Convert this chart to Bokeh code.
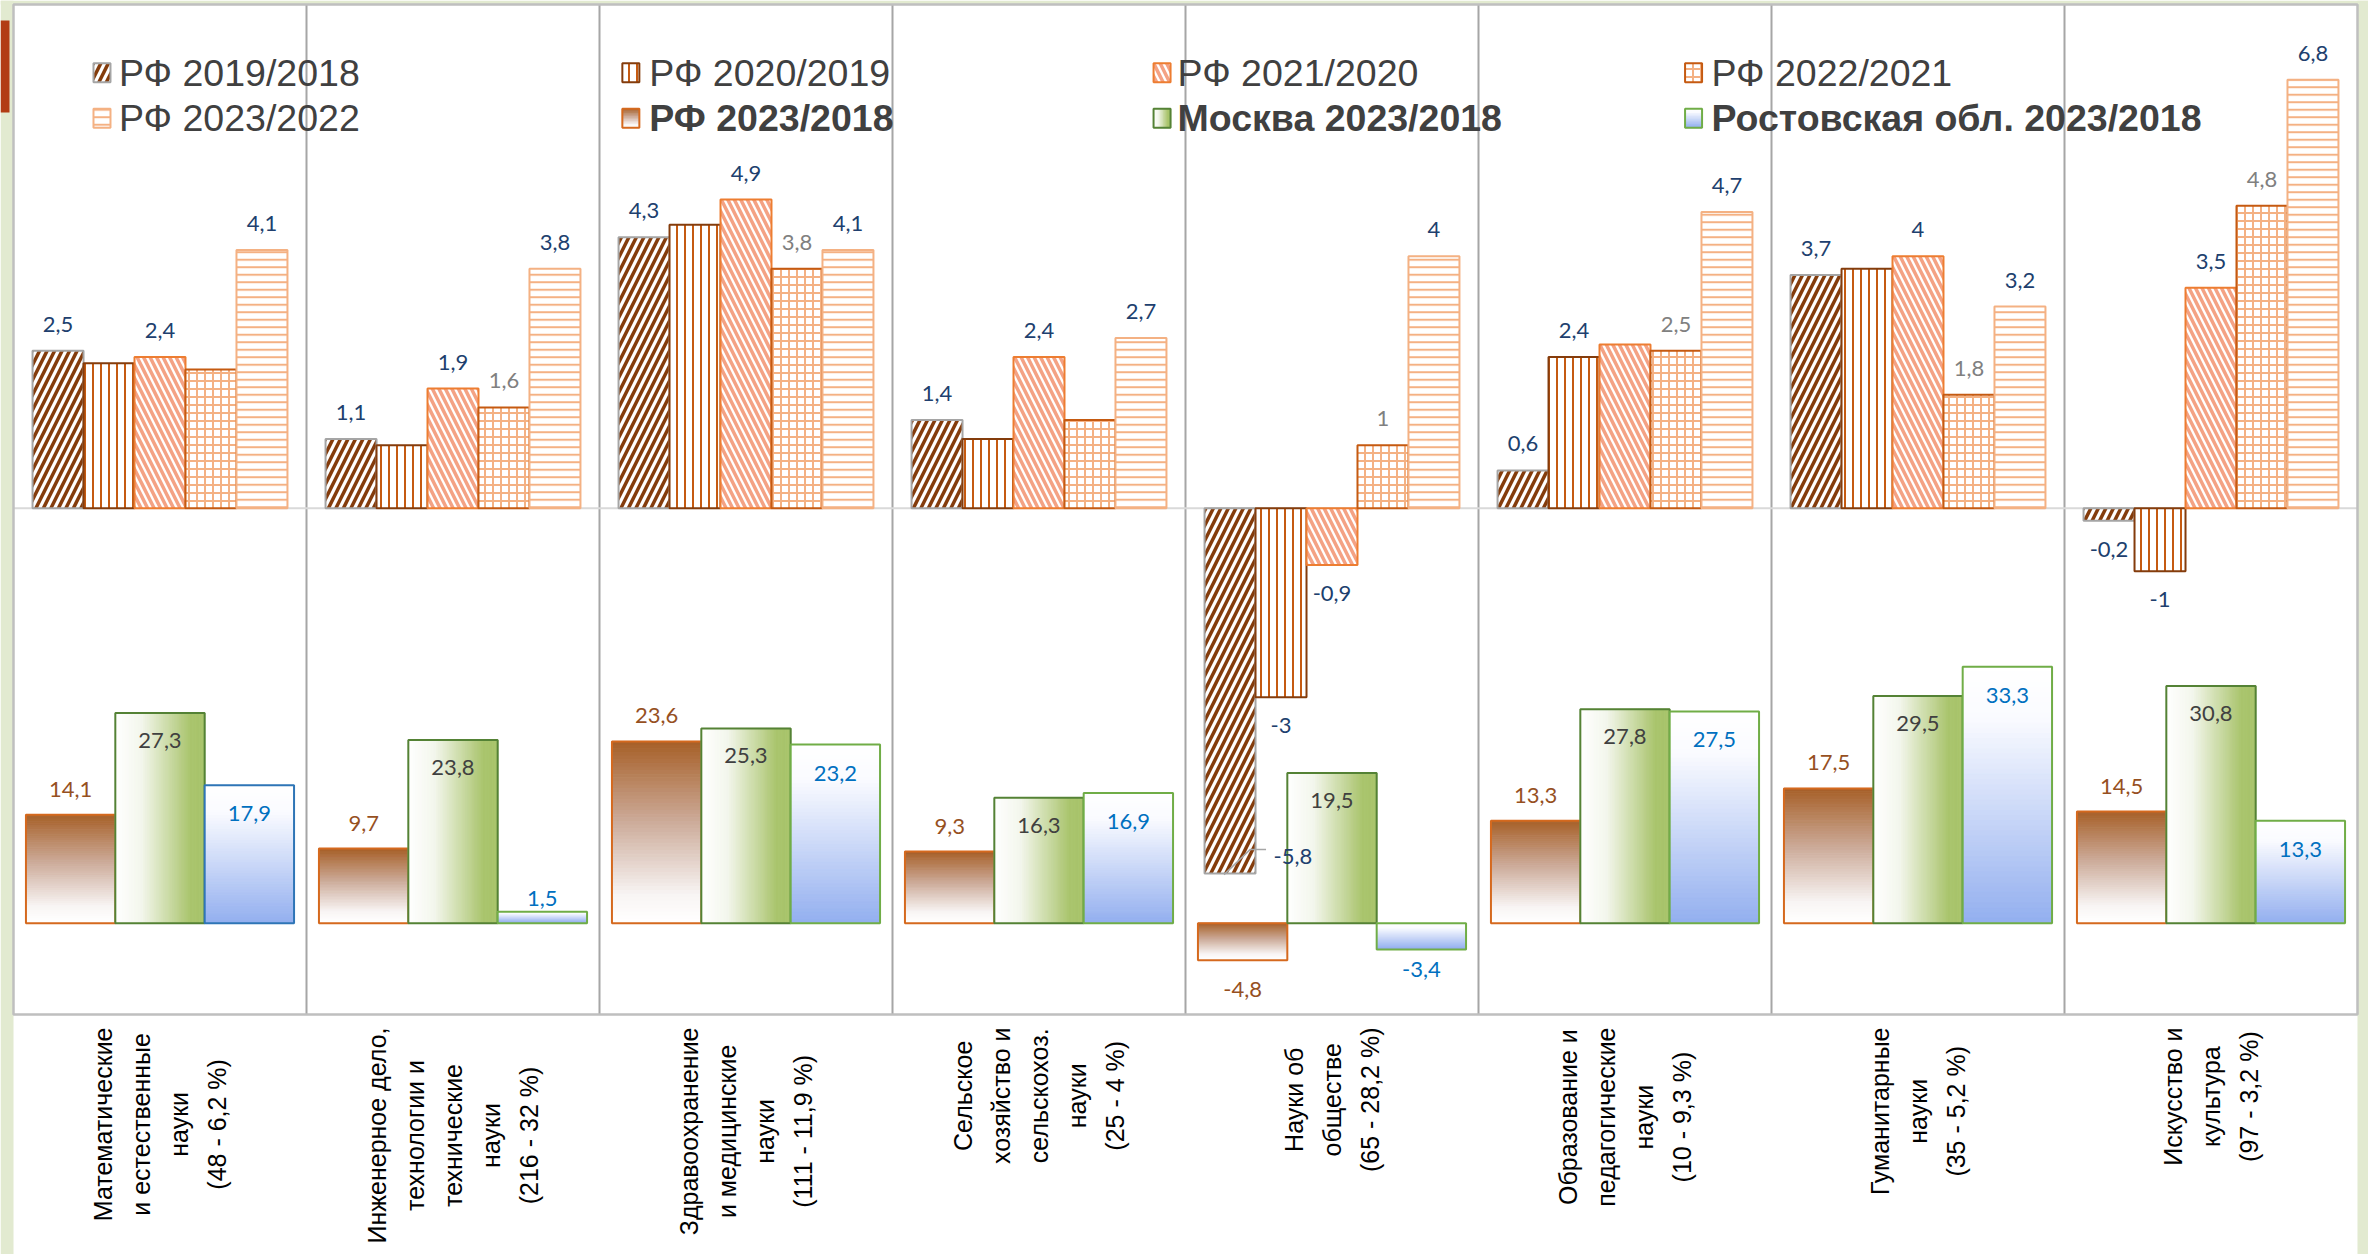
import numpy as np
from math import pi
from bokeh.plotting import figure
from bokeh.models import Range1d, ColumnDataSource, LabelSet, Label
from bokeh.embed import file_html
from bokeh.resources import INLINE
from bokeh.core.properties import value

# ---------------- data ----------------
categories = [
    "Математические\nи естественные\nнауки\n(48 - 6,2 %)",
    "Инженерное дело,\nтехнологии и\nтехнические\nнауки\n(216 - 32 %)",
    "Здравоохранение\nи медицинские\nнауки\n(111 - 11,9 %)",
    "Сельское\nхозяйство и\nсельскохоз.\nнауки\n(25 - 4 %)",
    "Науки об\nобществе\n(65 - 28,2 %)",
    "Образование и\nпедагогические\nнауки\n(10 - 9,3 %)",
    "Гуманитарные\nнауки\n(35 - 5,2 %)",
    "Искусство и\nкультура\n(97 - 3,2 %)",
]

top_names = ["РФ 2019/2018", "РФ 2020/2019", "РФ 2021/2020", "РФ 2022/2021", "РФ 2023/2022"]
rf_2019_2018 = [2.5, 1.1, 4.3, 1.4, -5.8, 0.6, 3.7, -0.2]
rf_2020_2019 = [2.3, 1.0, 4.5, 1.1, -3.0, 2.4, 3.8, -1.0]
rf_2021_2020 = [2.4, 1.9, 4.9, 2.4, -0.9, 2.6, 4.0, 3.5]
rf_2022_2021 = [2.2, 1.6, 3.8, 1.4, 1.0, 2.5, 1.8, 4.8]
rf_2023_2022 = [4.1, 3.8, 4.1, 2.7, 4.0, 4.7, 3.2, 6.8]
# which data labels are displayed (1 = shown)
show_2019_2018 = [1, 1, 1, 1, 1, 1, 1, 1]
show_2020_2019 = [0, 0, 0, 0, 1, 1, 0, 1]
show_2021_2020 = [1, 1, 1, 1, 1, 0, 1, 1]
show_2022_2021 = [0, 1, 1, 0, 1, 1, 1, 1]
show_2023_2022 = [1, 1, 1, 1, 1, 1, 1, 1]

bottom_names = ["РФ 2023/2018", "Москва 2023/2018", "Ростовская обл. 2023/2018"]
rf_2023_2018 = [14.1, 9.7, 23.6, 9.3, -4.8, 13.3, 17.5, 14.5]
moscow_2023_2018 = [27.3, 23.8, 25.3, 16.3, 19.5, 27.8, 29.5, 30.8]
rostov_2023_2018 = [17.9, 1.5, 23.2, 16.9, -3.4, 27.5, 33.3, 13.3]

# ---------------- layout / style ----------------
W, H = 2368, 1254
BOX_L, BOX_R, BOX_T = 13, 11, 4     # slide margins (px) around the plot box
NCAT = len(categories)
PPX = (W - BOX_L - BOX_R) / NCAT    # px per category unit
PPY = 63.0                          # px per unit of the upper panel
PPY_B = 7.7                         # px per unit of the lower panel
ZERO_TOP_PX = 507.7                 # screen y of the upper zero line
ZERO_BOT_PX = 922.7                 # screen y of the lower zero line
PLOT_TOP = (ZERO_TOP_PX - BOX_T) / PPY
PLOT_BOTTOM = -(1014 - ZERO_TOP_PX) / PPY
X_RANGE = (-BOX_L / PPX, NCAT + BOX_R / PPX)
TOP_RANGE = (-(H - ZERO_TOP_PX) / PPY, ZERO_TOP_PX / PPY)
BOT_RANGE = (-(H - ZERO_BOT_PX) / PPY_B, ZERO_BOT_PX / PPY_B)

top_styles = [
    dict(line_color="#a5a5a5", hatch_pattern="/", hatch_color="#843c0c", hatch_weight=3.5, hatch_scale=15),
    dict(line_color="#843c0c", hatch_pattern="|", hatch_color="#c55a11", hatch_weight=2, hatch_scale=8),
    dict(line_color="#ed7d31", hatch_pattern="\\", hatch_color="#f4a284", hatch_weight=3.5, hatch_scale=13),
    dict(line_color="#c55a11", hatch_pattern="+", hatch_color="#f4b183", hatch_weight=2, hatch_scale=8),
    dict(line_color="#f4b183", hatch_pattern="-", hatch_color="#f4b183", hatch_weight=2, hatch_scale=7.5),
]
top_label_colors = ["#203f6e", "#203f6e", "#203f6e", "#808080", "#203f6e"]

rf_grad = [(0.0, (166, 95, 39)), (0.45, (205, 172, 155)), (0.85, (248, 245, 244)), (1.0, (255, 255, 255))]
msk_grad = [(0.0, (255, 255, 255)), (0.3, (243, 246, 236)), (0.85, (169, 196, 108)), (1.0, (169, 196, 108))]
rst_grad = [(0.0, (255, 255, 255)), (0.2, (250, 251, 255)), (1.0, (147, 175, 239))]
rostov_edge = ["#2e75b6", "#70ad47", "#70ad47", "#70ad47", "#70ad47", "#70ad47", "#70ad47", "#70ad47"]
bottom_edges = ["#d5691e", "#548235", None]
bottom_label_colors = ["#96501f", "#404040", "#0070c0"]
SLIDE_GREEN = "#e2ead0"

LABEL_FONT = value("Lato")
LABEL_SIZE = "22px"


def fmt(v):
    return ("%g" % v).replace(".", ",")


def lerp_color(stops, t):
    for (t0, c0), (t1, c1) in zip(stops, stops[1:]):
        if t <= t1:
            f = (t - t0) / (t1 - t0) if t1 > t0 else 0.0
            return "#%02x%02x%02x" % tuple(int(round(a + (b - a) * f)) for a, b in zip(c0, c1))
    return "#%02x%02x%02x" % stops[-1][1]


def grad_quads(lefts, rights, tops, bottoms, stops, direction, n=50):
    L, R, T, B, C = [], [], [], [], []
    for l, r, t, b in zip(lefts, rights, tops, bottoms):
        for k in range(n):
            a0, a1 = k / n, (k + 1) / n
            C.append(lerp_color(stops, (a0 + a1) / 2))
            if direction == "v":
                L.append(l); R.append(r)
                T.append(t - (t - b) * a0); B.append(t - (t - b) * a1)
            else:
                L.append(l + (r - l) * a0); R.append(l + (r - l) * a1)
                T.append(t); B.append(b)
    return ColumnDataSource(dict(left=L, right=R, top=T, bottom=B, color=C))


p = figure(width=W, height=H, x_range=Range1d(*X_RANGE), y_range=Range1d(*TOP_RANGE),
           output_backend="svg", toolbar_location=None,
           x_axis_location=None, y_axis_location=None,
           min_border_left=0, min_border_right=0, min_border_top=0, min_border_bottom=0)
p.extra_y_ranges = {"bottom": Range1d(*BOT_RANGE)}
p.background_fill_color = "white"
p.border_fill_color = SLIDE_GREEN
p.outline_line_color = None
p.xgrid.visible = False
p.ygrid.visible = False

centers = np.arange(NCAT) + 0.5

# slide margins (green) and the red accent at the top-left
p.quad(left=[X_RANGE[0], NCAT, X_RANGE[0]], right=[0, X_RANGE[1], X_RANGE[1]],
       top=[TOP_RANGE[1]] * 3, bottom=[TOP_RANGE[0], TOP_RANGE[0], PLOT_TOP],
       fill_color=SLIDE_GREEN, line_color=None)
p.quad(left=[X_RANGE[0]], right=[X_RANGE[0] + 9 / PPX],
       top=[TOP_RANGE[1] - 20 / PPY], bottom=[TOP_RANGE[1] - 112 / PPY],
       fill_color="#b23c14", line_color=None)

# plot box, separators and zero line of the upper panel
p.segment(x0=list(range(1, NCAT)), y0=PLOT_BOTTOM, x1=list(range(1, NCAT)), y1=PLOT_TOP,
          line_color="#a6a6a6", line_width=2)
p.segment(x0=[0], y0=[0], x1=[NCAT], y1=[0], line_color="#d9d9d9", line_width=2)
p.quad(left=[0], right=[NCAT], top=[PLOT_TOP], bottom=[PLOT_BOTTOM], fill_color=None,
       line_color="#bfbfbf", line_width=2.5)

# ---------------- bottom panel (gradient bars) ----------------
bottom_series = [rf_2023_2018, moscow_2023_2018, rostov_2023_2018]
W3 = 0.305
for i, vals in enumerate(bottom_series):
    xs = centers + (i - 1) * W3
    lefts, rights = xs - W3 / 2, xs + W3 / 2
    tops = [max(v, 0) for v in vals]
    bots = [min(v, 0) for v in vals]
    if i == 0:
        src = grad_quads(lefts, rights, tops, bots, rf_grad, "v")
    elif i == 1:
        src = grad_quads(lefts, rights, tops, bots, msk_grad, "h")
    else:
        src = grad_quads(lefts, rights, tops, bots, rst_grad, "v")
    p.quad(left="left", right="right", top="top", bottom="bottom", source=src,
           fill_color="color", line_color="color", line_width=1, y_range_name="bottom")
    edge = rostov_edge if i == 2 else bottom_edges[i]
    p.vbar(x=list(xs), width=W3, top=list(vals), bottom=0, fill_color=None,
           line_color=edge, line_width=2, y_range_name="bottom")
    yo = []
    for v in vals:
        if i == 0:
            yo.append(18 if v >= 0 else -37)
        elif i == 1:
            yo.append(-35 if v >= 5 else 18)
        else:
            if v < 0:
                yo.append(-28)
            elif v < 5:
                yo.append(6)
            else:
                yo.append(-36)
    lsrc = ColumnDataSource(dict(x=list(xs), y=list(vals), text=[fmt(v) for v in vals], yo=yo))
    p.add_layout(LabelSet(x="x", y="y", text="text", source=lsrc, y_offset="yo",
                          y_range_name="bottom", text_align="center", text_baseline="alphabetic",
                          text_font=LABEL_FONT, text_font_size=LABEL_SIZE,
                          text_color=bottom_label_colors[i]))

# ---------------- top panel (hatched bars) ----------------
top_series = [rf_2019_2018, rf_2020_2019, rf_2021_2020, rf_2022_2021, rf_2023_2022]
top_show = [show_2019_2018, show_2020_2019, show_2021_2020, show_2022_2021, show_2023_2022]
W5 = 0.174
for i, vals in enumerate(top_series):
    xs = centers + (i - 2) * W5
    p.vbar(x=list(xs), width=W5, top=list(vals), bottom=0, fill_color="white",
           line_width=2, **top_styles[i])
    lx, ly, lt, lyo = [], [], [], []
    for x, v, s in zip(xs, vals, top_show[i]):
        if not s:
            continue
        if v < -5:
            # label placed beside the bar end with a leader line
            p.add_layout(Label(x=x, y=v, x_offset=W5 * PPX / 2 + 18, y_offset=17, text=fmt(v),
                               text_align="left", text_baseline="alphabetic",
                               text_font="Lato", text_font_size=LABEL_SIZE,
                               text_color=top_label_colors[i]))
            p.line(x=[x - 6 / PPX, x + 20 / PPX, x + 36 / PPX],
                   y=[v - 1 / PPY, v + 24 / PPY, v + 24 / PPY],
                   line_color="#a6a6a6", line_width=1.5)
            continue
        lx.append(x); ly.append(v); lt.append(fmt(v))
        lyo.append(19 if v >= 0 else -36)
    lsrc = ColumnDataSource(dict(x=lx, y=ly, text=lt, yo=lyo))
    p.add_layout(LabelSet(x="x", y="y", text="text", source=lsrc, y_offset="yo",
                          text_align="center", text_baseline="alphabetic",
                          text_font=LABEL_FONT, text_font_size=LABEL_SIZE,
                          text_color=top_label_colors[i]))

# ---------------- category labels (rotated, lines centred) ----------------
CAT_FONT = "Liberation Sans"
for c, name in zip(centers, categories):
    try:
        lab = Label(x=c, y=PLOT_BOTTOM, y_offset=-13, text=name, angle=pi / 2,
                    anchor="center_right", text_align="center",
                    text_font=CAT_FONT, text_font_size="25px", text_line_height=1.36,
                    text_color="black")
    except Exception:
        lab = Label(x=c, y=PLOT_BOTTOM, y_offset=-13, text=name, angle=pi / 2,
                    text_align="right", text_baseline="middle",
                    text_font=CAT_FONT, text_font_size="25px", text_line_height=1.36,
                    text_color="black")
    p.add_layout(lab)

# ---------------- legend (drawn manually) ----------------
legend_text_x = [0.360, 2.170, 3.973, 5.795]
legend_sw_gap = [0.087, 0.092, 0.082, 0.090]
legend_row_y = [6.91, 6.19]
SW_W, SW_H = 17 / PPX, 19 / PPY
legend_items = [(n, "top", k) for k, n in enumerate(top_names)] + \
               [(n, "bottom", k) for k, n in enumerate(bottom_names)]
for idx, (name, kind, k) in enumerate(legend_items):
    row, col = divmod(idx, 4)
    tx = legend_text_x[col]
    ty = legend_row_y[row]
    sl = tx - legend_sw_gap[col]
    sr = sl + SW_W
    st, sb = ty + SW_H / 2, ty - SW_H / 2
    if kind == "top":
        p.quad(left=[sl], right=[sr], top=[st], bottom=[sb], fill_color="white",
               line_width=2, **top_styles[k])
        bold = False
    else:
        stops, d = [(rf_grad, "v"), (msk_grad, "h"), (rst_grad, "v")][k]
        p.quad(left="left", right="right", top="top", bottom="bottom",
               source=grad_quads([sl], [sr], [st], [sb], stops, d, n=12),
               fill_color="color", line_color="color", line_width=1)
        edge = ["#d5691e", "#548235", "#70ad47"][k]
        p.quad(left=[sl], right=[sr], top=[st], bottom=[sb], fill_color=None,
               line_color=edge, line_width=2)
        bold = True
    p.add_layout(Label(x=tx, y=ty, text=name, text_baseline="middle", text_align="left",
                       text_font="Liberation Sans", text_font_size="37.5px",
                       text_font_style="bold" if bold else "normal",
                       text_color="#404040"))

open("out.html", "w").write(file_html(p, INLINE))
